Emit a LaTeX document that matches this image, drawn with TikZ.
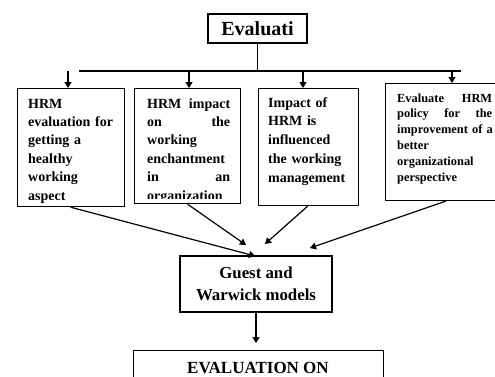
\documentclass[tikz,border=0pt]{standalone}
\usepackage{fontspec}
\setmainfont{Liberation Serif}
\usetikzlibrary{arrows.meta}
\newcommand{\jtwo}[3]{\leavevmode\hbox to #1{#2\hfill #3}}
\newcommand{\jthree}[4]{\leavevmode\hbox to #1{#2\hfill #3\hfill #4}}
\begin{document}
\begin{tikzpicture}[x=1pt,y=-1pt,
  box/.style={draw, line width=1.2pt, inner sep=0pt, anchor=north west},
  txt/.style={inner sep=0pt, anchor=base west, align=left, font=\bfseries\fontsize{14}{18.4}\selectfont},
  conn/.style={line width=1.2pt, -{Triangle[length=6pt,width=7pt]}},
  plain/.style={line width=1.2pt}]
\useasboundingbox (0,0) rectangle (495,376);
% top box
\node[draw, line width=1.2pt, minimum width=99pt, minimum height=29pt, inner sep=0pt,
  font=\bfseries\fontsize{20}{24}\selectfont] (top) at (257.5,28.5) {Evaluati};
\coordinate (bar) at (257.5,71);
\coordinate (barL) at (79,71);
\coordinate (barR) at (461,71);
\draw[plain] (top.south) -- (bar);
\draw[plain] (barL) -- (barR);
% four boxes
\node[box, minimum width=107pt, minimum height=118pt] (b1) at (17,88) {};
\node[box, minimum width=106pt, minimum height=115pt] (b2) at (134,88) {};
\node[box, minimum width=100pt, minimum height=117pt] (b3) at (258,88) {};
\node[box, minimum width=113pt, minimum height=117pt] (b4) at (385,83) {};
\coordinate (a1) at (68,71);
\coordinate (a2) at (189,71);
\coordinate (a3) at (303,71);
\coordinate (a4) at (452,71);
\draw[conn] (a1) -- (a1 |- b1.north);
\draw[conn] (a2) -- (a2 |- b2.north);
\draw[conn] (a3) -- (a3 |- b3.north);
\draw[conn] (a4) -- (a4 |- b4.north);
% texts
\node[txt, text width=85pt] (t1) at (28,108) {HRM\\evaluation for\\getting a\\healthy\\working\\aspect};
\begin{scope}
\clip (136,89) rectangle (239,198);
\node[txt, text width=90pt] (t2) at (147,108) {\jtwo{83pt}{HRM}{impact}\\\jtwo{83pt}{on}{the}\\working\\enchantment\\\jtwo{83pt}{in}{an}\\organization};
\end{scope}
\node[txt, text width=85pt, font=\bfseries\fontsize{14}{18.75}\selectfont] (t3) at (268,107) {Impact of\\HRM is\\influenced\\the working\\management};
\node[txt, text width=105pt, font=\bfseries\fontsize{12.4}{15.8}\selectfont] (t4) at (397,102) {\jtwo{95pt}{Evaluate}{HRM}\\\jthree{95pt}{policy}{for}{the}\\improvement of a\\better\\organizational\\perspective};
% guest box
\node[draw, line width=1.2pt, minimum width=152pt, minimum height=56pt, inner sep=0pt, align=center,
  font=\bfseries\fontsize{16.8}{22}\selectfont] (g) at (256,284) {Guest and\\Warwick models};
\coordinate (e1) at (255,256);
\coordinate (e2) at (246,245);
\coordinate (e3) at (265,244);
\coordinate (e4) at (310,248);
\draw[conn] ([xshift=-0.5pt]b1.south) -- (e1);
\draw[conn] (b2.south) -- (e2);
\draw[conn] ([xshift=-1pt]b3.south) -- (e3);
\draw[conn] ([xshift=3.5pt]b4.south) -- (e4);
% final box
\node[box, minimum width=250pt, minimum height=32pt] (f) at (133,350) {};
\node[inner sep=0pt, anchor=base, font=\bfseries\fontsize{17}{20}\selectfont] (ft) at (258,373) {EVALUATION ON};
\coordinate (e5) at (g.south |- 0,343);
\draw[conn] (g.south) -- (e5);
\end{tikzpicture}
\end{document}
